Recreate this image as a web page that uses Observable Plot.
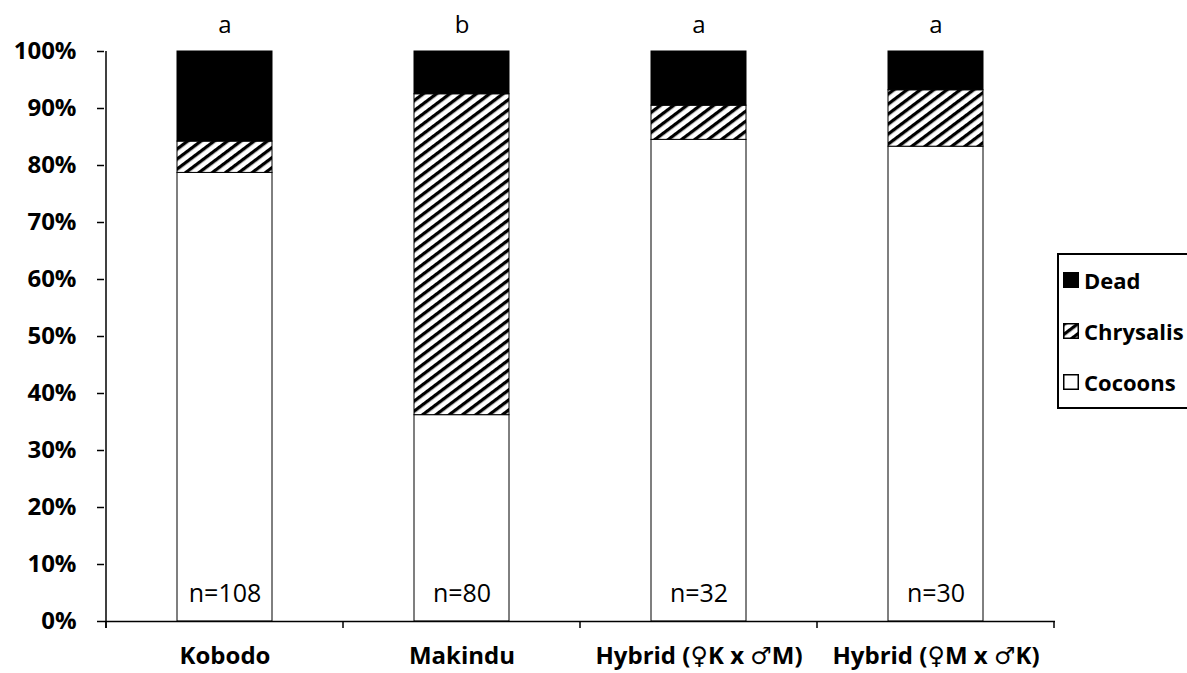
<!DOCTYPE html>
<html><head><meta charset="utf-8">
<script src="https://cdn.jsdelivr.net/npm/d3@7"></script>
<script src="https://cdn.jsdelivr.net/npm/@observablehq/plot@0.6"></script>
<style>
body{margin:0;background:#fff;overflow:hidden}
#wrap{position:relative;width:1187px;height:673px;overflow:hidden}
#legend{position:absolute;left:1057px;top:253px;width:160px;height:156px;border:2px solid #000;box-sizing:border-box;font-family:"Open Sans",sans-serif;font-weight:700;font-size:22px;background:#fff}
.row{position:absolute;left:4px;height:30px;display:flex;align-items:center;white-space:nowrap}
.row svg{margin-right:5px}
</style></head><body>
<svg width="0" height="0" style="position:absolute">
<defs>
<pattern id="hatch" patternUnits="userSpaceOnUse" width="8" height="8" patternTransform="rotate(-37)">
<rect width="8" height="8" fill="white"/>
<rect y="0" width="8" height="3.3" fill="black"/>
</pattern>
</defs>
</svg>
<div id="wrap"><div id="chart"></div><div id="legend"></div></div>
<script>
const categories = ["Kobodo", "Makindu", "Hybrid (♀K x ♂M)", "Hybrid (♀M x ♂K)"];
const cocoons = [0.787, 0.362, 0.845, 0.833];
const chrysalis = [0.055, 0.563, 0.060, 0.099];
const dead = [0.158, 0.075, 0.095, 0.068];
const groupLetters = ["a", "b", "a", "a"];
const sampleSizes = ["n=108", "n=80", "n=32", "n=30"];
const seriesNames = ["Cocoons", "Chrysalis", "Dead"];
const seriesFills = ["white", "url(#hatch)", "black"];
const yTicks = [0, 0.1, 0.2, 0.3, 0.4, 0.5, 0.6, 0.7, 0.8, 0.9, 1];
const legendOrder = ["Dead", "Chrysalis", "Cocoons"];

const table = categories.flatMap((c, i) => [
  {cat: c, series: "Cocoons", value: cocoons[i]},
  {cat: c, series: "Chrysalis", value: chrysalis[i]},
  {cat: c, series: "Dead", value: dead[i]}
]);
const labels = categories.map((c, i) => ({cat: c, letter: groupLetters[i], n: sampleSizes[i]}));

const chart = Plot.plot({
  width: 1187,
  height: 673,
  marginLeft: 104,
  marginRight: 132,
  marginTop: 51,
  marginBottom: 52,
  style: {fontFamily: "Open Sans, DejaVu Sans, sans-serif", fontSize: "22px", color: "black", background: "white"},
  x: {domain: categories, paddingInner: 0.6, paddingOuter: 0.3, label: null},
  y: {domain: [0, 1], label: null},
  color: {domain: seriesNames, range: seriesFills},
  marks: [
    Plot.barY(table, {x: "cat", y: "value", fill: "series", stroke: "black", strokeWidth: 1}),
    Plot.ruleY([0], {stroke: "black", strokeWidth: 1.5}),
    Plot.text(labels, {x: "cat", y: () => 1, text: "letter", dy: -26, fontSize: 24}),
    Plot.text(labels, {x: "cat", y: () => 0, text: "n", dy: -28, fontSize: 25}),
    Plot.axisX({tickSize: 0, tickPadding: 25, fontSize: 24, fontWeight: "bold", label: null, fontFamily: "Open Sans, DejaVu Sans, sans-serif"}),
    Plot.axisY(yTicks, {tickFormat: d3.format(".0%"), tickSize: 7, tickPadding: 21, fontSize: 24, fontWeight: "bold", label: null, strokeWidth: 1.5})
  ]
});
document.getElementById("chart").appendChild(chart);

// axis line and category boundary ticks, positioned from Plot's own scales
const sx = chart.scale("x");
const sy = chart.scale("y");
const svg = d3.select(chart);
const step = sx.step ?? (sx.bandwidth / (1 - sx.paddingInner));
const gap = step - sx.bandwidth;
const bounds = categories.map(c => sx.apply(c) - gap / 2);
bounds.push(bounds[bounds.length - 1] + step);
const y0 = sy.apply(0), y1 = sy.apply(1);
svg.append("line").attr("x1", bounds[0]).attr("x2", bounds[0]).attr("y1", y1).attr("y2", y0 + 7)
  .attr("stroke", "black").attr("stroke-width", 1.5);
svg.append("g").selectAll("line").data(bounds).join("line")
  .attr("x1", d => d).attr("x2", d => d).attr("y1", y0).attr("y2", y0 + 7)
  .attr("stroke", "black").attr("stroke-width", 1.5);

// legend
const legend = d3.select("#legend");
const fillOf = name => seriesFills[seriesNames.indexOf(name)];
legendOrder.forEach((name, i) => {
  const row = legend.append("div").attr("class", "row").style("top", (10 + i * 51) + "px");
  const s = row.append("svg").attr("width", 16).attr("height", 16);
  s.append("rect").attr("x", 0.75).attr("y", 0.75).attr("width", 14.5).attr("height", 14.5)
    .attr("fill", fillOf(name)).attr("stroke", "black").attr("stroke-width", 1.5);
  row.append("span").text(name);
});
</script>
</body></html>
